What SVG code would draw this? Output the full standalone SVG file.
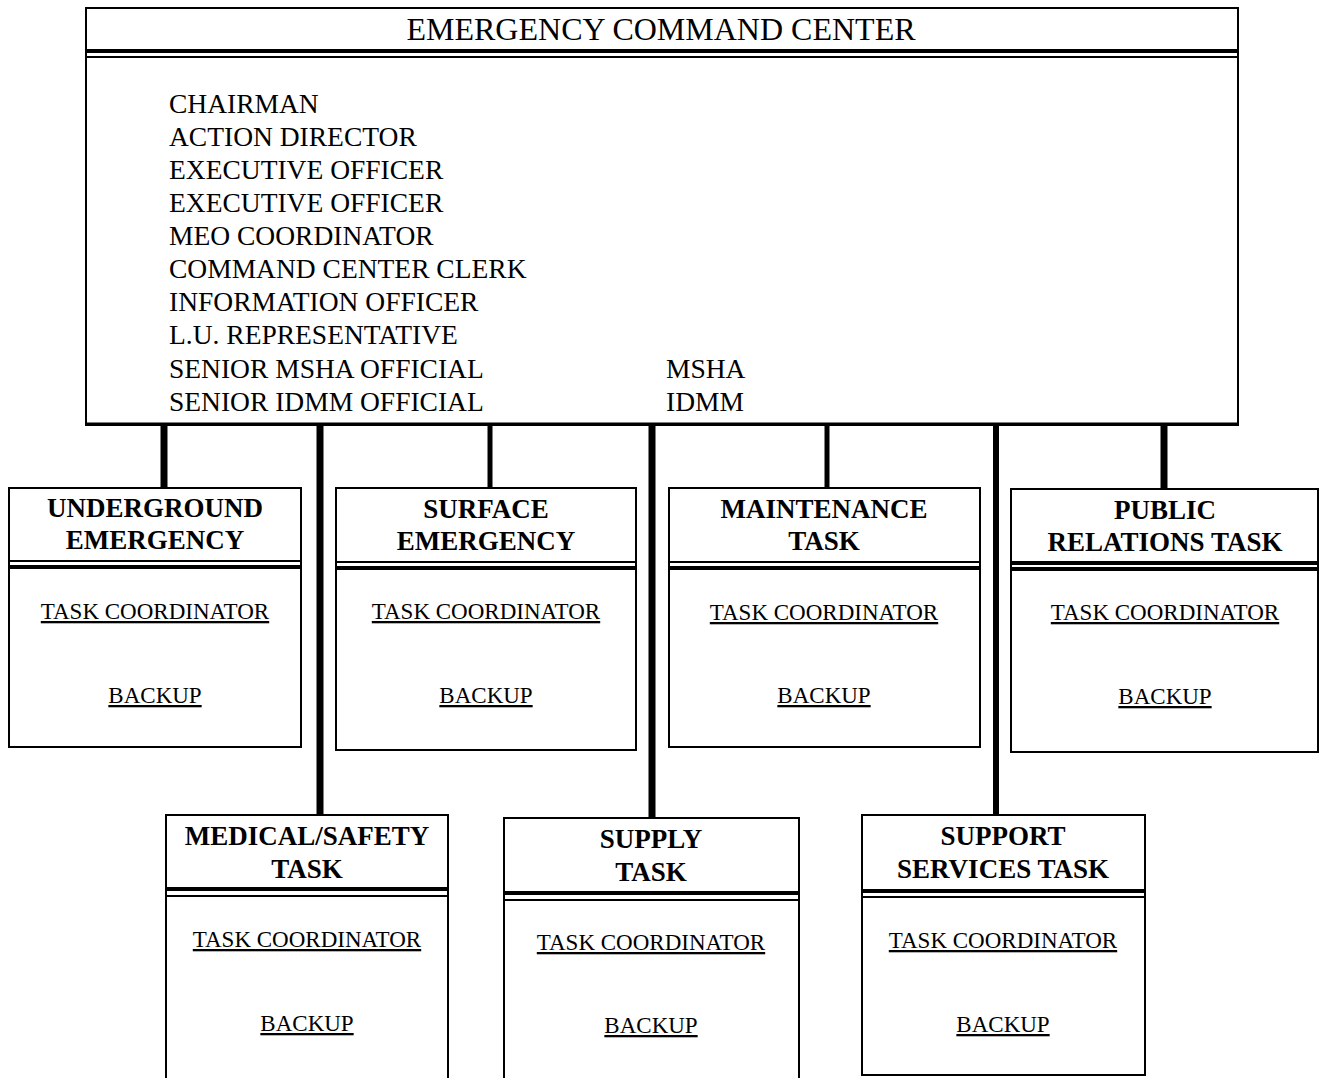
<svg xmlns="http://www.w3.org/2000/svg" width="1320" height="1078" viewBox="0 0 1320 1078">
<style>
text{font-family:"Liberation Serif","Times New Roman",serif;fill:#000}
.ttl{font-size:32px;text-anchor:middle}
.l{font-size:27.5px}
.h{font-size:27px;font-weight:bold;text-anchor:middle}
.u{font-size:23px;text-anchor:middle;text-decoration:underline}
.box{fill:#fff;stroke:#000;stroke-width:2}
.d1{stroke:#000;stroke-width:2}
.d2{stroke:#000;stroke-width:4}
.c{stroke:#000;fill:none}
</style>
<rect width="1320" height="1078" fill="#fff"/>
<g id="connectors">
<line class="c" x1="164" y1="424" x2="164" y2="489" stroke-width="7"/>
<line class="c" x1="320" y1="424" x2="320" y2="815" stroke-width="7"/>
<line class="c" x1="490" y1="424" x2="490" y2="489" stroke-width="5"/>
<line class="c" x1="652" y1="424" x2="652" y2="818" stroke-width="7"/>
<line class="c" x1="827" y1="424" x2="827" y2="489" stroke-width="5"/>
<line class="c" x1="996" y1="424" x2="996" y2="815" stroke-width="6"/>
<line class="c" x1="1164" y1="424" x2="1164" y2="490" stroke-width="7"/>
</g>
<g id="command-center">
<rect class="box" x="86" y="8" width="1152" height="417"/>
<line class="c" x1="86" y1="424" x2="1238" y2="424" stroke-width="3"/>
<line class="d2" x1="86" y1="51" x2="1238" y2="51" stroke-width="3"/>
<line class="d1" x1="86" y1="57" x2="1238" y2="57"/>
<text class="ttl" x="661" y="40">EMERGENCY COMMAND CENTER</text>
<text class="l" x="169" y="113">CHAIRMAN</text>
<text class="l" x="169" y="146">ACTION DIRECTOR</text>
<text class="l" x="169" y="179">EXECUTIVE OFFICER</text>
<text class="l" x="169" y="212">EXECUTIVE OFFICER</text>
<text class="l" x="169" y="245">MEO COORDINATOR</text>
<text class="l" x="169" y="278">COMMAND CENTER CLERK</text>
<text class="l" x="169" y="311">INFORMATION OFFICER</text>
<text class="l" x="169" y="344">L.U. REPRESENTATIVE</text>
<text class="l" x="169" y="378">SENIOR MSHA OFFICIAL</text>
<text class="l" x="169" y="411">SENIOR IDMM OFFICIAL</text>
<text class="l" x="666" y="378">MSHA</text>
<text class="l" x="666" y="411">IDMM</text>
</g>
<g id="underground">
<rect class="box" x="9" y="488" width="292" height="259"/>
<line class="d1" x1="9" y1="561" x2="301" y2="561"/>
<line class="d2" x1="9" y1="567" x2="301" y2="567"/>
<text class="h" x="155" y="517">UNDERGROUND</text>
<text class="h" x="155" y="549">EMERGENCY</text>
<text class="u" x="155" y="619">TASK COORDINATOR</text>
<text class="u" x="155" y="703">BACKUP</text>
</g>
<g id="surface">
<rect class="box" x="336" y="488" width="300" height="262"/>
<line class="d1" x1="336" y1="562" x2="636" y2="562"/>
<line class="d2" x1="336" y1="568" x2="636" y2="568"/>
<text class="h" x="486" y="518">SURFACE</text>
<text class="h" x="486" y="550">EMERGENCY</text>
<text class="u" x="486" y="619">TASK COORDINATOR</text>
<text class="u" x="486" y="703">BACKUP</text>
</g>
<g id="maintenance">
<rect class="box" x="669" y="488" width="311" height="259"/>
<line class="d1" x1="669" y1="562" x2="980" y2="562"/>
<line class="d2" x1="669" y1="568" x2="980" y2="568"/>
<text class="h" x="824" y="518">MAINTENANCE</text>
<text class="h" x="824" y="550">TASK</text>
<text class="u" x="824" y="620">TASK COORDINATOR</text>
<text class="u" x="824" y="703">BACKUP</text>
</g>
<g id="public-relations">
<rect class="box" x="1011" y="489" width="307" height="263"/>
<line class="d2" x1="1011" y1="563" x2="1318" y2="563"/>
<line class="d2" x1="1011" y1="569" x2="1318" y2="569"/>
<text class="h" x="1165" y="519">PUBLIC</text>
<text class="h" x="1165" y="551">RELATIONS TASK</text>
<text class="u" x="1165" y="620">TASK COORDINATOR</text>
<text class="u" x="1165" y="704">BACKUP</text>
</g>
<g id="medical-safety">
<rect class="box" x="166" y="815" width="282" height="270"/>
<line class="d2" x1="166" y1="889" x2="448" y2="889"/>
<line class="d1" x1="166" y1="896" x2="448" y2="896"/>
<text class="h" x="307" y="845">MEDICAL/SAFETY</text>
<text class="h" x="307" y="878">TASK</text>
<text class="u" x="307" y="947">TASK COORDINATOR</text>
<text class="u" x="307" y="1031">BACKUP</text>
</g>
<g id="supply">
<rect class="box" x="504" y="818" width="295" height="270"/>
<line class="d2" x1="504" y1="893" x2="799" y2="893"/>
<line class="d1" x1="504" y1="900" x2="799" y2="900"/>
<text class="h" x="651" y="848">SUPPLY</text>
<text class="h" x="651" y="881">TASK</text>
<text class="u" x="651" y="950">TASK COORDINATOR</text>
<text class="u" x="651" y="1033">BACKUP</text>
</g>
<g id="support-services">
<rect class="box" x="862" y="815" width="283" height="260" stroke-width="3"/>
<line class="d2" x1="862" y1="891" x2="1145" y2="891"/>
<line class="d1" x1="862" y1="897" x2="1145" y2="897"/>
<text class="h" x="1003" y="845">SUPPORT</text>
<text class="h" x="1003" y="878">SERVICES TASK</text>
<text class="u" x="1003" y="948">TASK COORDINATOR</text>
<text class="u" x="1003" y="1032">BACKUP</text>
</g>
</svg>
